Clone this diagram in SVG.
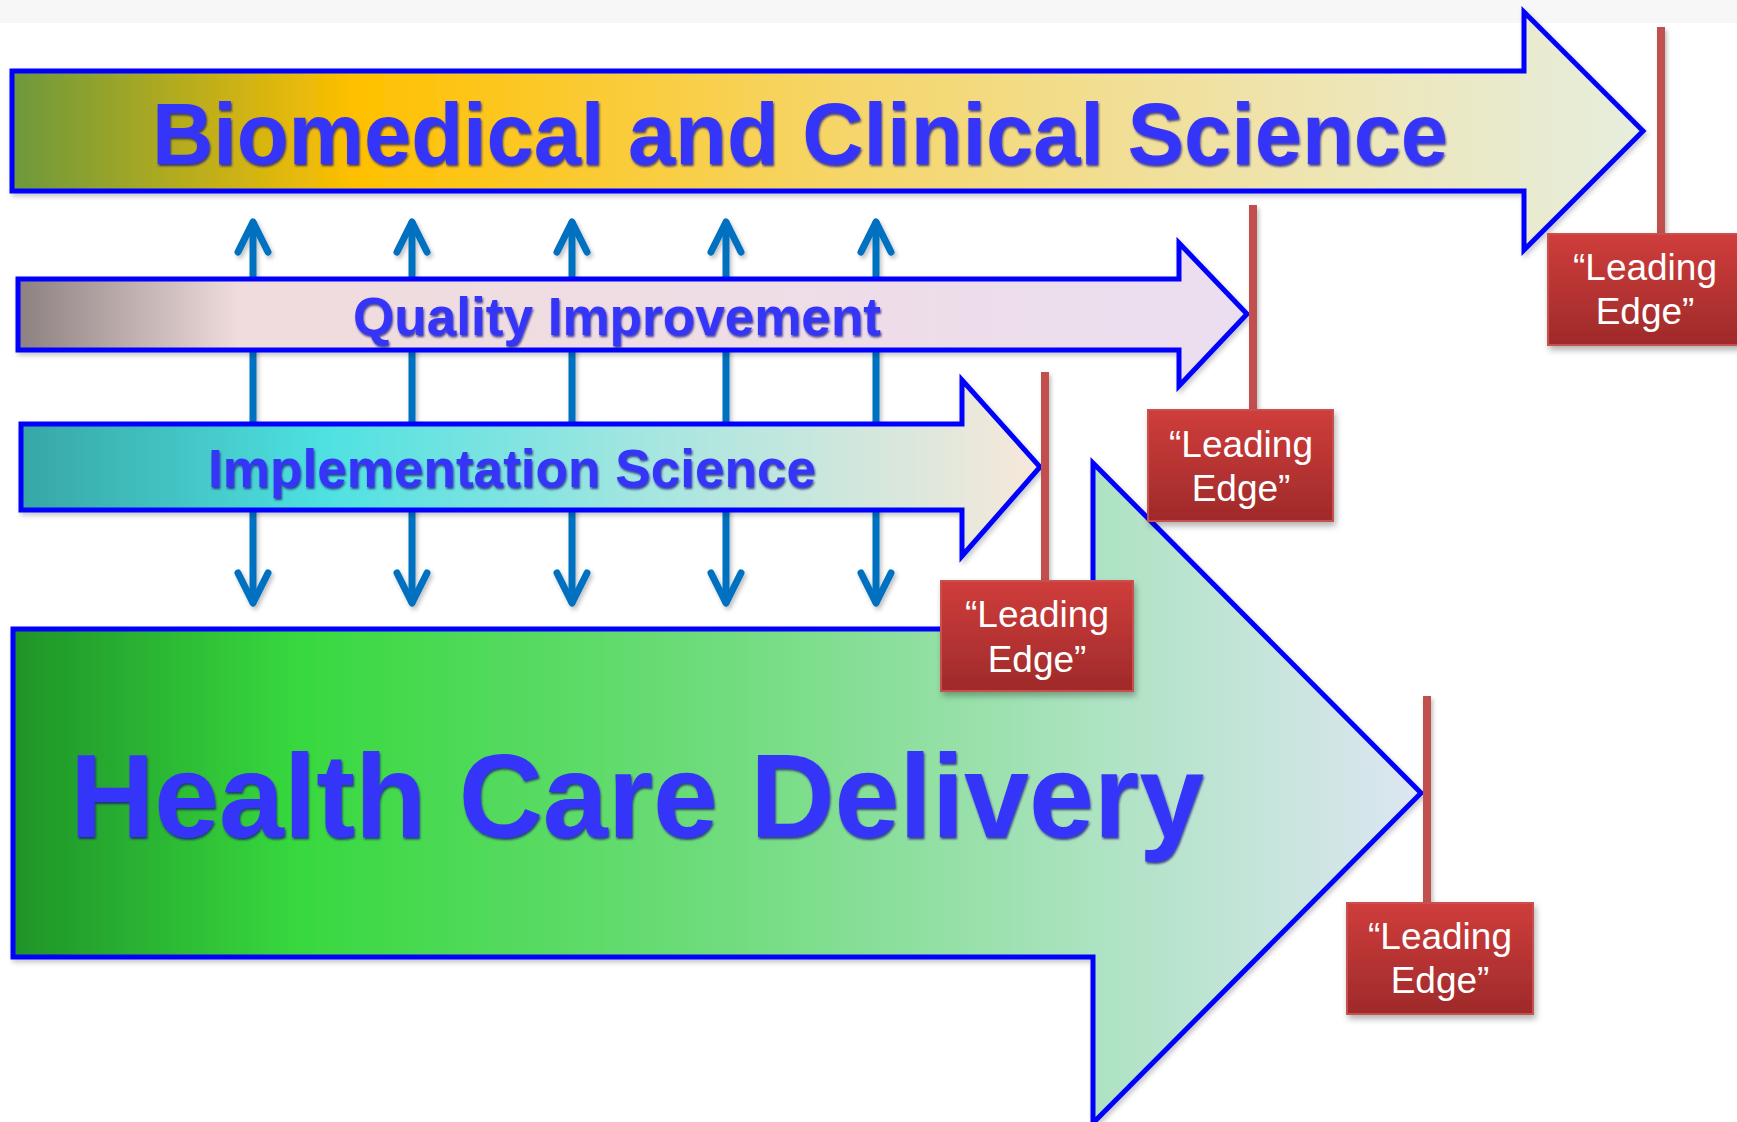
<svg xmlns="http://www.w3.org/2000/svg" width="1737" height="1122" viewBox="0 0 1737 1122">
<style>
.band{stroke:#0000ff;stroke-width:5;stroke-linejoin:miter;stroke-miterlimit:10}
.title{font-family:"Liberation Sans",Arial,sans-serif;font-weight:bold;fill:#3434fa;filter:url(#tsh)}
.va{fill:none;stroke:#0070c0;stroke-width:7;stroke-linecap:round;stroke-linejoin:round}
.lead{fill:#c0504d}
.box{fill:url(#gRed);stroke:#c9514e;stroke-width:2;filter:url(#bsh)}
.lt{font-family:"Liberation Sans",Arial,sans-serif;font-size:37px;fill:#ffffff;text-anchor:middle}
</style>
<defs>
<filter id="tsh" x="-5%" y="-20%" width="110%" height="150%">
<feDropShadow dx="1" dy="2" stdDeviation="0.8" flood-color="#14147a" flood-opacity="0.8"/>
</filter>
<filter id="bsh" x="-10%" y="-10%" width="130%" height="130%">
<feDropShadow dx="2" dy="4" stdDeviation="3" flood-color="#000" flood-opacity="0.3"/>
</filter>
<filter id="ash" x="-10%" y="-10%" width="130%" height="130%">
<feDropShadow dx="2" dy="3" stdDeviation="2.5" flood-color="#000" flood-opacity="0.22"/>
</filter>
<filter id="lsh" filterUnits="userSpaceOnUse" x="0" y="0" width="1737" height="1122">
<feDropShadow dx="2" dy="3" stdDeviation="2" flood-color="#000" flood-opacity="0.25"/>
</filter>
<linearGradient id="gBio" gradientUnits="userSpaceOnUse" x1="12" y1="0" x2="1643" y2="0">
<stop offset="0" stop-color="#6c983c"/>
<stop offset="0.21" stop-color="#ffc000"/>
<stop offset="0.5" stop-color="#f6d566"/>
<stop offset="0.78" stop-color="#efe4ae"/>
<stop offset="1" stop-color="#e6eede"/>
</linearGradient>
<linearGradient id="gQual" gradientUnits="userSpaceOnUse" x1="18" y1="0" x2="1247" y2="0">
<stop offset="0" stop-color="#8c8080"/>
<stop offset="0.18" stop-color="#f0dcdc"/>
<stop offset="0.6" stop-color="#efdde6"/>
<stop offset="1" stop-color="#ebdef0"/>
</linearGradient>
<linearGradient id="gImpl" gradientUnits="userSpaceOnUse" x1="21" y1="0" x2="1040" y2="0">
<stop offset="0" stop-color="#37a6a6"/>
<stop offset="0.3" stop-color="#4fe1e1"/>
<stop offset="0.62" stop-color="#a6e6e0"/>
<stop offset="1" stop-color="#f7e8da"/>
</linearGradient>
<linearGradient id="gHealth" gradientUnits="userSpaceOnUse" x1="13" y1="0" x2="1421" y2="0">
<stop offset="0" stop-color="#1f9328"/>
<stop offset="0.2" stop-color="#37d83e"/>
<stop offset="0.5" stop-color="#6fdc7c"/>
<stop offset="0.78" stop-color="#afe3c4"/>
<stop offset="1" stop-color="#dde6f2"/>
</linearGradient>
<linearGradient id="gRed" x1="0" y1="0" x2="0" y2="1">
<stop offset="0" stop-color="#cf3d3b"/>
<stop offset="1" stop-color="#9f2a2a"/>
</linearGradient>
</defs>
<rect x="0" y="0" width="1737" height="1122" fill="#ffffff"/>
<rect x="0" y="0" width="1737" height="23" fill="#f7f7f7"/>

<g id="connectors" filter="url(#lsh)">
<line class="va" x1="253" y1="223" x2="253" y2="602"/>
<line class="va" x1="412" y1="223" x2="412" y2="602"/>
<line class="va" x1="572" y1="223" x2="572" y2="602"/>
<line class="va" x1="726" y1="223" x2="726" y2="602"/>
<line class="va" x1="876" y1="223" x2="876" y2="602"/>
<polyline class="va" points="238,252 253,222 268,252"/>
<polyline class="va" points="397,252 412,222 427,252"/>
<polyline class="va" points="557,252 572,222 587,252"/>
<polyline class="va" points="711,252 726,222 741,252"/>
<polyline class="va" points="861,252 876,222 891,252"/>
<polyline class="va" points="238,573 253,603 268,573"/>
<polyline class="va" points="397,573 412,603 427,573"/>
<polyline class="va" points="557,573 572,603 587,573"/>
<polyline class="va" points="711,573 726,603 741,573"/>
<polyline class="va" points="861,573 876,603 891,573"/>
</g>

<g id="biomedical">
<polygon class="band" fill="url(#gBio)" filter="url(#ash)" points="12,71 1524,71 1524,12 1643,131 1524,250 1524,191 12,191"/>
<text class="title" x="152" y="164" font-size="88" textLength="1296" lengthAdjust="spacingAndGlyphs">Biomedical and Clinical Science</text>
</g>

<g id="quality">
<polygon class="band" fill="url(#gQual)" filter="url(#ash)" points="18,279 1179,279 1179,243 1247,314 1179,386 1179,350 18,350"/>
<text class="title" x="353" y="335" font-size="53" textLength="528" lengthAdjust="spacingAndGlyphs">Quality Improvement</text>
</g>

<g id="implementation">
<polygon class="band" fill="url(#gImpl)" filter="url(#ash)" points="21,424 962,424 962,380 1040,467 962,556 962,510 21,510"/>
<text class="title" x="208" y="487" font-size="53" textLength="608" lengthAdjust="spacingAndGlyphs">Implementation Science</text>
</g>

<g id="health">
<polygon class="band" fill="url(#gHealth)" filter="url(#ash)" points="13,629 1093,629 1093,463 1421,793 1093,1123 1093,957 13,957"/>
<text class="title" x="70" y="837" font-size="118" textLength="1134" lengthAdjust="spacingAndGlyphs">Health Care Delivery</text>
</g>

<g id="leading1">
<rect class="lead" x="1657" y="27" width="8" height="209" filter="url(#lsh)"/>
<rect class="box" x="1548" y="234" width="200" height="111"/>
<text class="lt" x="1645" y="280">“Leading</text>
<text class="lt" x="1645" y="324">Edge”</text>
</g>

<g id="leading2">
<rect class="lead" x="1249" y="205" width="8" height="207" filter="url(#lsh)"/>
<rect class="box" x="1148" y="410" width="185" height="111"/>
<text class="lt" x="1241" y="457">“Leading</text>
<text class="lt" x="1241" y="501">Edge”</text>
</g>

<g id="leading3">
<rect class="lead" x="1041" y="372" width="8" height="211" filter="url(#lsh)"/>
<rect class="box" x="941" y="581" width="192" height="110"/>
<text class="lt" x="1037" y="627">“Leading</text>
<text class="lt" x="1037" y="672">Edge”</text>
</g>

<g id="leading4">
<rect class="lead" x="1423" y="696" width="8" height="209" filter="url(#lsh)"/>
<rect class="box" x="1347" y="903" width="186" height="111"/>
<text class="lt" x="1440" y="949">“Leading</text>
<text class="lt" x="1440" y="993">Edge”</text>
</g>
</svg>
